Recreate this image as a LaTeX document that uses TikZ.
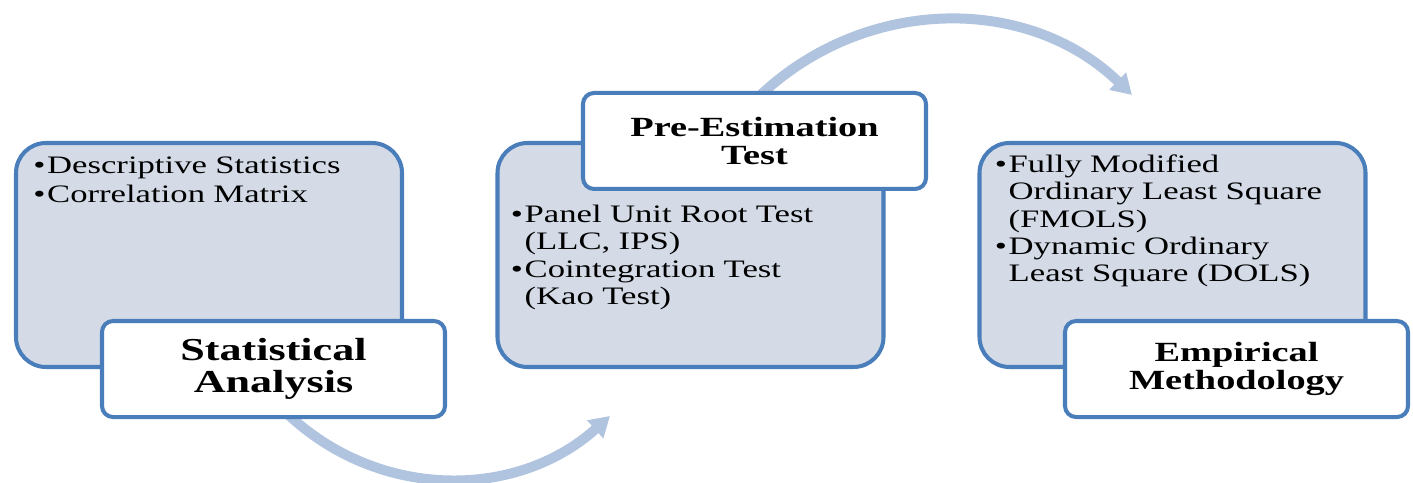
\documentclass[tikz,border=0pt]{standalone}
\usepackage{fontspec}
\setmainfont[FakeStretch=1.38]{Liberation Serif}
\usetikzlibrary{arrows.meta,backgrounds,calc}

\definecolor{boxline}{HTML}{4A7EBB}
\definecolor{boxfill}{HTML}{D4DBE7}
\definecolor{flowblue}{HTML}{B0C3DF}

\tikzset{
  panel/.style={draw=boxline, fill=boxfill, line width=2.3pt, rounded corners=0.6cm,
    minimum width=7.72cm, minimum height=4.48cm},
  heading/.style={draw=boxline, fill=white, line width=2.3pt, rounded corners=0.22cm,
    minimum width=6.86cm, minimum height=1.92cm, align=center,
    font=\fontsize{15.8}{16}\selectfont\bfseries},
  items/.style={anchor=north west, inner sep=0pt, text width=7cm, align=left,
    font=\fontsize{14.3}{15.6}\selectfont},
  flow/.style={draw=flowblue, line width=0.2cm, -{Triangle[width=0.46cm,length=0.4cm]}}
}

% bullet line with hanging indent
\newcommand{\itm}[1]{\par\hangindent=0.55em\hangafter=1\noindent\makebox[0.55em][l]{\textbullet}#1\par}

\begin{document}
\begin{tikzpicture}
\useasboundingbox (0,0) rectangle (28.26,9.64);

% the three stages
\node[panel] (sa) at (4.18,4.54) {};
\node[panel] (pe) at (13.81,4.54) {};
\node[panel] (em) at (23.45,4.54) {};

\node[heading, font=\fontsize{18.2}{18.2}\selectfont\bfseries] (sa-title) at ([xshift=1.29cm]sa.south) {Statistical\\Analysis};
\node[heading] (pe-title) at ([xshift=1.28cm]pe.north) {Pre-Estimation\\Test};
\node[heading] (em-title) at ([xshift=1.28cm]em.south) {Empirical\\Methodology};

\node[items, font=\fontsize{14.3}{16.4}\selectfont] (sa-items) at ([shift={(0.38,-0.07)}]sa.north west)
  {\itm{Descriptive Statistics}\itm{Correlation Matrix}};
\node[items] (pe-items) at ($(pe-title.south -| pe.west)+(0.3,-0.07)$)
  {\itm{Panel Unit Root Test\newline(LLC, IPS)}\itm{Cointegration Test\newline(Kao Test)}};
\node[items] (em-items) at ([shift={(0.34,-0.07)}]em.north west)
  {\itm{Fully Modified\newline Ordinary Least Square\newline(FMOLS)}\itm{Dynamic Ordinary\newline Least Square (DOLS)}};

% curved arrows between stages
\coordinate (pe-in) at (12.2,1.32);
\coordinate (em-in) at (22.64,7.74);
\begin{scope}[on background layer]
\draw[flow] ([shift={(0.18,0.2)}]sa-title.south) to[out=-45,in=-138] (pe-in);
\draw[flow] ([yshift=-0.2cm]pe-title.north) to[out=45,in=136] (em-in);
\end{scope}
\end{tikzpicture}
\end{document}
